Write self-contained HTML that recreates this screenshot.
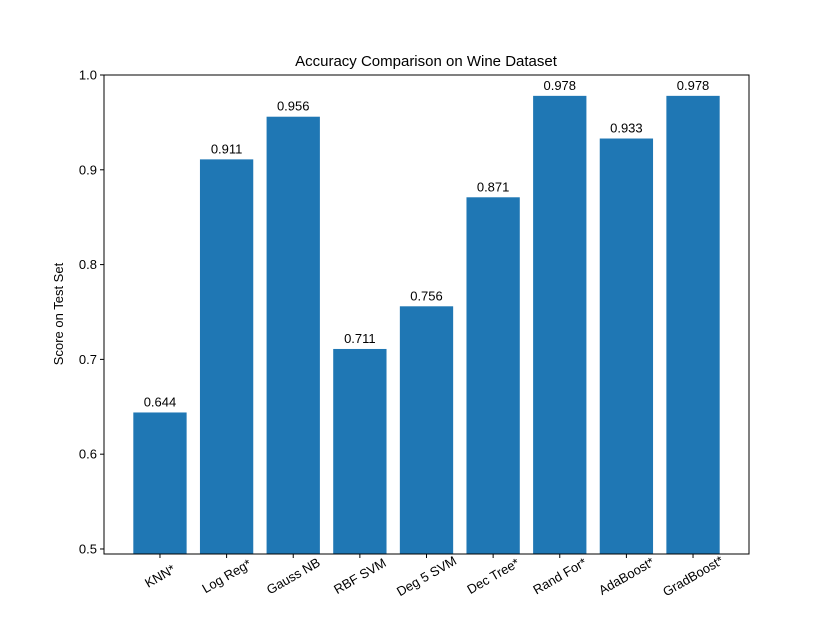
<!DOCTYPE html>
<html><head><meta charset="utf-8"><style>
body{margin:0;background:#fff}
svg{display:block;font-family:"Liberation Sans","DejaVu Sans",sans-serif}
</style></head><body>
<svg id="chart" width="832" height="623">
<rect width="832" height="623" fill="#fff"/>
<text x="426" y="66" text-anchor="middle" font-size="15">Accuracy Comparison on Wine Dataset</text>
<text transform="translate(63,314) rotate(-90)" text-anchor="middle" font-size="13">Score on Test Set</text>
<g id="bars"></g><g id="yticks"></g><g id="xticks"></g>
<rect x="104" y="75" width="645" height="479" fill="none" stroke="#000" stroke-width="1"/>
</svg>
<script>
const categories=["KNN*","Log Reg*","Gauss NB","RBF SVM","Deg 5 SVM","Dec Tree*","Rand For*","AdaBoost*","GradBoost*"];
const scores=[0.644,0.911,0.956,0.711,0.756,0.871,0.978,0.933,0.978];
const valueLabels=["0.644","0.911","0.956","0.711","0.756","0.871","0.978","0.933","0.978"];
const yTicks=[0.5,0.6,0.7,0.8,0.9,1.0];
const yTickLabels=["0.5","0.6","0.7","0.8","0.9","1.0"];
const L=104,R=749,T=75,B=554;
const yMin=0.4947,yMax=1.0;
const xMin=-0.84,xMax=categories.length-1+0.84;
const ns="http://www.w3.org/2000/svg";
function y(v){return B-(v-yMin)/(yMax-yMin)*(B-T);}
function x(i){return L+(i-xMin)/(xMax-xMin)*(R-L);}
const bw=0.8*(R-L)/(xMax-xMin);
function mk(tag,attrs,parent){const e=document.createElementNS(ns,tag);for(const k in attrs)e.setAttribute(k,attrs[k]);parent.appendChild(e);return e;}
const gb=document.getElementById('bars'),gy=document.getElementById('yticks'),gx=document.getElementById('xticks');
scores.forEach((v,i)=>{
  const r=mk('rect',{x:x(i)-bw/2,y:y(v),width:bw,height:B-y(v),fill:'#1f77b4'},gb);
  
  
  const t=mk('text',{x:x(i),y:y(v)-6,'text-anchor':'middle','font-size':13},gb);
  t.textContent=valueLabels[i];
  
  
  const tk=mk('line',{x1:x(i),x2:x(i),y1:B,y2:B+4,stroke:'#000'},gx);
  
  
  const lx=x(i),ly=B+22;
  const lt=mk('text',{x:lx,y:ly+4.5,'text-anchor':'middle','font-size':13,transform:`rotate(-30 ${lx} ${ly})`},gx);
  lt.textContent=categories[i];
  
  
});
yTicks.forEach((v,i)=>{
  const tk=mk('line',{x1:L-4,x2:L,y1:y(v),y2:y(v),stroke:'#000'},gy);
  
  
  const t=mk('text',{x:L-7,y:y(v)+4.5,'text-anchor':'end','font-size':13},gy);
  t.textContent=yTickLabels[i];
  
  
});
</script>
</body></html>
